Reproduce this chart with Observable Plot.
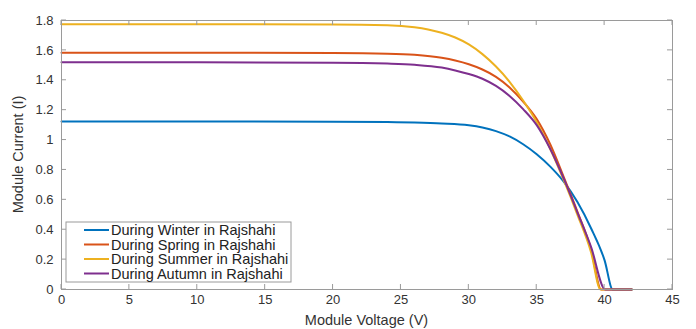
<!DOCTYPE html>
<html>
<head>
<meta charset="utf-8">
<script src="https://cdn.jsdelivr.net/npm/d3@7"></script>
<script src="https://cdn.jsdelivr.net/npm/@observablehq/plot@0.6"></script>
<style>
  html, body { margin: 0; padding: 0; background: #fff; }
  #chart svg { display: block; font-family: "Liberation Sans", Arial, sans-serif; }
</style>
</head>
<body>
<div id="chart"></div>
<script>
// ---- data ----
const seriesNames = [
  "During Winter in Rajshahi",
  "During Spring in Rajshahi",
  "During Summer in Rajshahi",
  "During Autumn in Rajshahi"
];
const seriesColors = ["#0072BD", "#D95319", "#EDB120", "#7E2F8E"];

const winterV = [0, 10, 20, 24, 26, 28, 30, 31, 32, 33, 34, 35, 36, 37, 38, 39, 40, 40.6, 42];
const winterI = [1.125, 1.125, 1.123, 1.12, 1.117, 1.111, 1.099, 1.084, 1.06, 1.024, 0.972, 0.905, 0.822, 0.72, 0.585, 0.41, 0.195, 0, 0];

const springV = [0, 10, 20, 24, 26, 28, 29, 30, 31, 32, 33, 34, 35, 36, 37, 38, 39, 39.75, 42];
const springI = [1.585, 1.585, 1.583, 1.578, 1.57, 1.55, 1.532, 1.507, 1.472, 1.423, 1.352, 1.257, 1.14, 0.97, 0.75, 0.52, 0.27, 0, 0];

const summerV = [0, 10, 20, 24, 26, 27, 28, 29, 30, 31, 32, 33, 34, 35, 36, 37, 38, 39, 39.7, 42];
const summerI = [1.775, 1.775, 1.774, 1.769, 1.755, 1.74, 1.718, 1.686, 1.64, 1.575, 1.492, 1.39, 1.265, 1.12, 0.94, 0.73, 0.5, 0.25, 0, 0];

const autumnV = [0, 10, 20, 24, 26, 28, 29, 30, 31, 32, 33, 34, 35, 36, 37, 38, 39, 40.05, 42];
const autumnI = [1.52, 1.52, 1.518, 1.512, 1.504, 1.485, 1.466, 1.442, 1.41, 1.362, 1.295, 1.207, 1.10, 0.94, 0.74, 0.515, 0.285, 0, 0];

const xTicks = [0, 5, 10, 15, 20, 25, 30, 35, 40, 45];
const yTicks = [0, 0.2, 0.4, 0.6, 0.8, 1, 1.2, 1.4, 1.6, 1.8];
const xLabel = "Module Voltage (V)";
const yLabel = "Module Current (I)";

// ---- build table ----
const allV = [winterV, springV, summerV, autumnV];
const allI = [winterI, springI, summerI, autumnI];
const rows = [];
seriesNames.forEach((name, s) => {
  allV[s].forEach((v, i) => rows.push({series: name, V: v, I: allI[s][i]}));
});

const axisColor = "#9a9a9a";
const textColor = "#333333";

const chart = Plot.plot({
  width: 696,
  height: 329,
  marginLeft: 61,
  marginRight: 24,
  marginTop: 20,
  marginBottom: 40,
  style: {fontFamily: "'Liberation Sans', Arial, sans-serif", fontSize: "13px", color: textColor, background: "#fff"},
  x: {domain: [0, 45], label: null},
  y: {domain: [0, 1.8], label: null},
  color: {domain: seriesNames, range: seriesColors},
  marks: [
    Plot.line(rows, {x: "V", y: "I", z: "series", stroke: "series", strokeWidth: 2, curve: "monotone-x"}),
    Plot.frame({stroke: axisColor, strokeWidth: 1}),
    Plot.axisX({ticks: xTicks, tickSize: 0, tickPadding: 5, tickFormat: d => String(d), fill: textColor}),
    Plot.axisY({ticks: yTicks, tickSize: 0, tickPadding: 8, tickFormat: d => String(+d.toFixed(1)), fill: textColor})
  ]
});

const svg = d3.select(chart);
const sx = chart.scale("x"), sy = chart.scale("y");
const x0 = sx.apply(0), x1 = sx.apply(45), y0 = sy.apply(0), y1 = sy.apply(1.8);
const tl = 5;
const tg = svg.append("g").attr("stroke", axisColor).attr("stroke-width", 1);
xTicks.forEach(t => {
  const px = sx.apply(t);
  tg.append("line").attr("x1", px).attr("x2", px).attr("y1", y0).attr("y2", y0 - tl);
  tg.append("line").attr("x1", px).attr("x2", px).attr("y1", y1).attr("y2", y1 + tl);
});
yTicks.forEach(t => {
  const py = sy.apply(t);
  tg.append("line").attr("x1", x0).attr("x2", x0 + tl).attr("y1", py).attr("y2", py);
  tg.append("line").attr("x1", x1).attr("x2", x1 - tl).attr("y1", py).attr("y2", py);
});

// axis titles
svg.append("text")
  .attr("x", (x0 + x1) / 2).attr("y", y0 + 36)
  .attr("text-anchor", "middle").attr("fill", textColor)
  .style("font-size", "14.5px")
  .text(xLabel);
svg.append("text")
  .attr("transform", `translate(23,${(y0 + y1) / 2}) rotate(-90)`)
  .attr("text-anchor", "middle").attr("fill", textColor)
  .style("font-size", "14.5px")
  .text(yLabel);

// legend
const lg = svg.append("g").attr("transform", `translate(${x0 + 5},222)`);
lg.append("rect").attr("x", 0).attr("y", 0).attr("width", 225).attr("height", 60)
  .attr("fill", "#fff").attr("stroke", axisColor).attr("stroke-width", 1);
seriesNames.forEach((name, i) => {
  const yy = 8 + i * 14.5;
  lg.append("line").attr("x1", 18).attr("x2", 43).attr("y1", yy).attr("y2", yy)
    .attr("stroke", seriesColors[i]).attr("stroke-width", 2);
  lg.append("text").attr("x", 45).attr("y", yy).attr("dy", "0.35em")
    .attr("text-anchor", "start")
    .attr("fill", "#222").style("font-size", "14.5px").text(name);
});

document.getElementById("chart").appendChild(chart);
</script>
</body>
</html>
